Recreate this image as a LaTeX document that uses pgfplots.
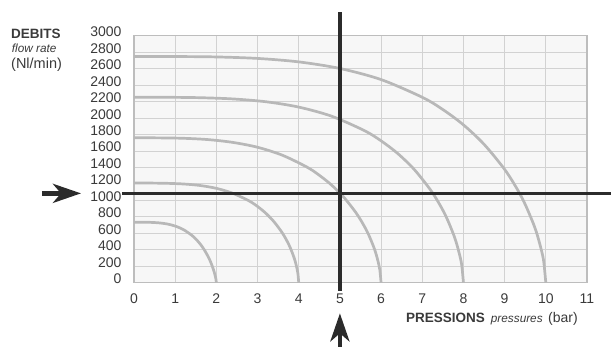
\documentclass[border=0pt]{standalone}
\usepackage{fontspec}
\setmainfont{Liberation Sans}
\usepackage{pgfplots}
\pgfplotsset{compat=1.18}
\usepackage{pgfplotstable}
\usetikzlibrary{arrows.meta}

\definecolor{curvegray}{HTML}{B8B8B8}
\definecolor{gridgray}{HTML}{D2D2D2}
\definecolor{framegray}{HTML}{BDBDBD}
\definecolor{bggray}{HTML}{F7F7F7}
\definecolor{darkline}{HTML}{2B2B2B}
\definecolor{txtgray}{HTML}{3A3A3A}

\pgfplotstableread{
x y
0 735
0.2 735
0.4 733
0.6 727
0.8 714
1 688
1.2 645
1.4 577
1.5 531
1.6 475
1.7 405
1.8 317
1.86 253
1.9 202
1.94 143
1.96 108
1.98 67
1.99 41
2 0
}\curveA

\pgfplotstableread{
x y
0 1210
0.4 1210
0.8 1207
1.2 1199
1.6 1181
2 1146
2.4 1086
2.8 992
3 926
3.2 844
3.4 740
3.6 606
3.72 502
3.8 418
3.88 314
3.92 250
3.96 167
3.98 112
4 0
}\curveB

\pgfplotstableread{
x y
0 1760
0.6 1759
1.2 1754
1.8 1738
2.4 1704
3 1645
3.6 1549
4.2 1404
4.5 1305
4.8 1185
5.1 1035
5.4 843
5.58 697
5.7 580
5.82 435
5.88 345
5.94 231
5.97 154
6 0
}\curveC

\pgfplotstableread{
x y
0 2252
0.8 2252
1.6 2247
2.4 2232
3.2 2198
4 2133
4.8 2022
5.6 1846
6 1723
6.4 1571
6.8 1378
7.2 1127
7.44 935
7.6 779
7.76 585
7.84 464
7.92 311
7.96 208
8 0
}\curveD

\pgfplotstableread{
x y
0 2748
1 2747
2 2742
3 2724
4 2682
5 2602
6 2467
7 2252
7.5 2103
8 1917
8.5 1681
9 1376
9.3 1141
9.5 950
9.7 714
9.8 567
9.9 380
9.95 254
10 0
}\curveE

\begin{document}
\begin{tikzpicture}
\useasboundingbox (-134bp,-64.3bp) rectangle (477bp,282.7bp);
\begin{axis}[
  scale only axis,
  width=453bp, height=247bp,
  xmin=0, xmax=11, ymin=0, ymax=3000,
  xtick={0,1,...,11},
  ytick={0,200,...,3000},
  grid=major,
  major grid style={color=gridgray, line width=0.9bp},
  axis line style={color=framegray, line width=1.4bp},
  axis background/.style={fill=bggray},
  major tick length=0pt,
  tick style={draw=none},
  scaled y ticks=false,
  /pgf/number format/assume math mode=true,
  /pgf/number format/1000 sep={},
  ticklabel style={font=\fontsize{14bp}{16bp}\selectfont, text=txtgray, inner sep=0pt},
  yticklabel style={anchor=east, xshift=-12.3bp, yshift=3.8bp},
  xticklabel style={anchor=north, yshift=-11.3bp},
  clip=false,
]
\addplot[curvegray, line width=2.7bp, smooth, tension=0.5] table[x=x,y=y] {\curveA};
\addplot[curvegray, line width=2.7bp, smooth, tension=0.5] table[x=x,y=y] {\curveB};
\addplot[curvegray, line width=2.7bp, smooth, tension=0.5] table[x=x,y=y] {\curveC};
\addplot[curvegray, line width=2.7bp, smooth, tension=0.5] table[x=x,y=y] {\curveD};
\addplot[curvegray, line width=2.7bp, smooth, tension=0.5] table[x=x,y=y] {\curveE};
% operating point lines
\addplot[darkline, line width=3.5bp] coordinates {(-0.291,1085) (11.58,1085)};
\addplot[darkline, line width=4bp] coordinates {(5,-97) (5,3284)};
% arrows
\draw[darkline, line width=4.5bp, -{Stealth[length=28bp,width=19bp,inset=8bp]}] (axis cs:-2.234,1085) -- (axis cs:-1.287,1085);
\draw[darkline, line width=4.5bp, -{Stealth[length=28bp,width=19bp,inset=8bp]}] (axis cs:5,-830) -- (axis cs:5,-372);
\end{axis}
\node[anchor=base west, inner sep=0pt, text=txtgray, font=\fontsize{13.5bp}{16bp}\selectfont\bfseries] at (-123bp,244.4bp) {DEBITS};
\node[anchor=base west, inner sep=0pt, text=txtgray, font=\fontsize{11.8bp}{14bp}\selectfont\itshape] at (-122.3bp,229.7bp) {flow rate};
\node[anchor=base west, inner sep=0pt, text=txtgray, font=\fontsize{14.5bp}{16bp}\selectfont] at (-123bp,214bp) {(Nl/min)};
\node[anchor=base west, inner sep=0pt, text=txtgray, font=\fontsize{13.5bp}{16bp}\selectfont\bfseries] at (272bp,-40bp) {PRESSIONS};
\node[anchor=base west, inner sep=0pt, text=txtgray, font=\fontsize{11.8bp}{14bp}\selectfont\itshape] at (356.7bp,-40bp) {pressures};
\node[anchor=base west, inner sep=0pt, text=txtgray, font=\fontsize{14bp}{16bp}\selectfont] at (414bp,-40bp) {(bar)};
\end{tikzpicture}
\end{document}
